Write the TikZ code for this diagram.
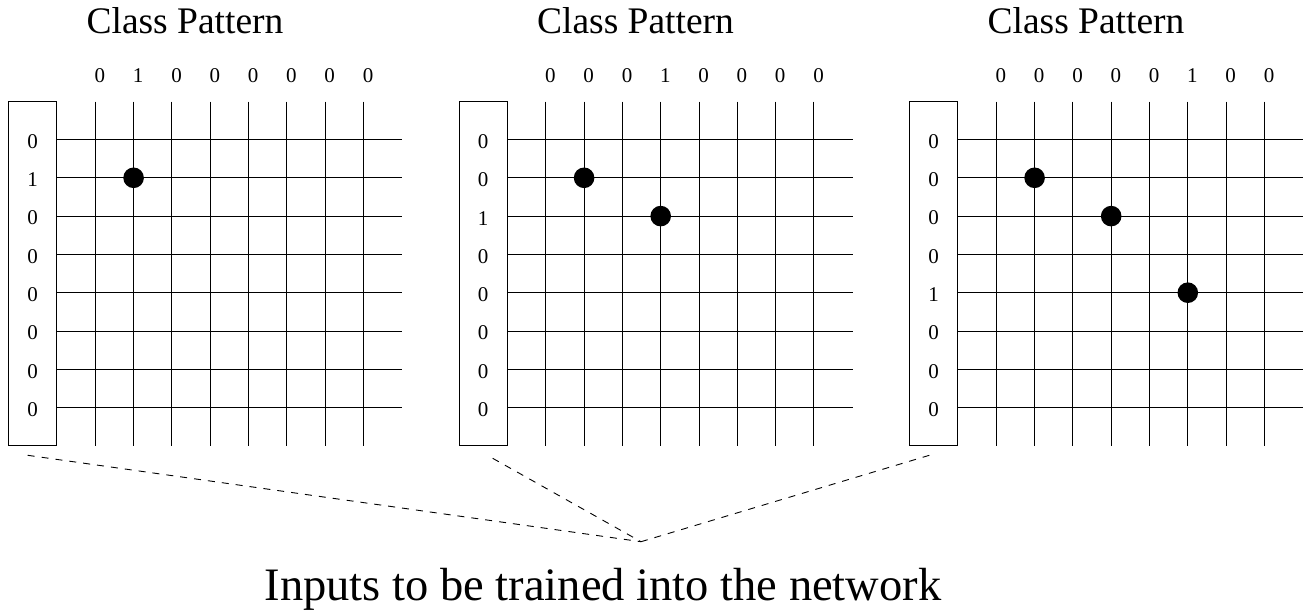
\documentclass[tikz,border=0pt]{standalone}
\usepackage{fontspec}
\setmainfont{Liberation Serif}
\begin{document}
\begin{tikzpicture}[x=1pt,y=-1pt,
  gridline/.style={line width=1pt},
  inbox/.style={draw, line width=1pt, minimum width=48pt, minimum height=344pt, inner sep=0pt, outer sep=0pt},
  dig/.style={font=\fontsize{21}{21}\selectfont, inner sep=0pt},
  ttl/.style={font=\fontsize{37.5}{37.5}\selectfont, inner sep=0pt, anchor=base},
  bigtxt/.style={font=\fontsize{46.5}{46.5}\selectfont, inner sep=0pt, anchor=base},
  spot/.style={circle, fill=black, minimum size=20.6pt, inner sep=0pt},
  link/.style={dash pattern=on 7pt off 7pt, line width=0.9pt}]
\useasboundingbox (0,0) rectangle (1310,613);
\foreach \ox/\cols/\rows/\dl/\n in {
  0/{0,1,0,0,0,0,0,0}/{0,1,0,0,0,0,0,0}/{2/2}/1,
  450.5/{0,0,0,1,0,0,0,0}/{0,0,1,0,0,0,0,0}/{2/2,4/3}/2,
  901/{0,0,0,0,0,1,0,0}/{0,0,0,0,1,0,0,0}/{2/2,4/3,6/5}/3}{
  \node[ttl] (title\n) at ({\ox+185},33) {Class Pattern};
  \node[inbox] (box\n) at ({\ox+32.5},273.6) {};
  \foreach \k in {0,...,7}{
    \draw[gridline] ({\ox+95.3+38.3*\k},101.5) -- ({\ox+95.3+38.3*\k},445.7);
    \draw[gridline] ({\ox+56.5},{139.5+38.3*\k}) -- ({\ox+402},{139.5+38.3*\k});
  }
  \foreach \v [count=\k from 0] in \cols{
    \node[dig] (c\n-\k) at ({\ox+99.9+38.3*\k},76) {\v};
  }
  \foreach \v [count=\k from 0] in \rows{
    \node[dig] (r\n-\k) at ({\ox+32.5},{141.5+38.3*\k}) {\v};
  }
  \foreach \cc/\rr in \dl{
    \node[spot] (d\n-\cc-\rr) at ({\ox+95.3+38.3*(\cc-1)},{139.5+38.3*(\rr-1)}) {};
  }
}
\coordinate (s1) at (27.7,455.3);
\coordinate (s2) at (492.7,458.3);
\coordinate (s3) at (929.3,455.3);
\coordinate (apex) at (641,541.7);
\draw[link] (s1) -- (apex);
\draw[link] (s2) -- (apex);
\draw[link] (s3) -- (apex);
\node[bigtxt] (caption) at (603,600) {Inputs to be trained into the network};
\end{tikzpicture}
\end{document}
